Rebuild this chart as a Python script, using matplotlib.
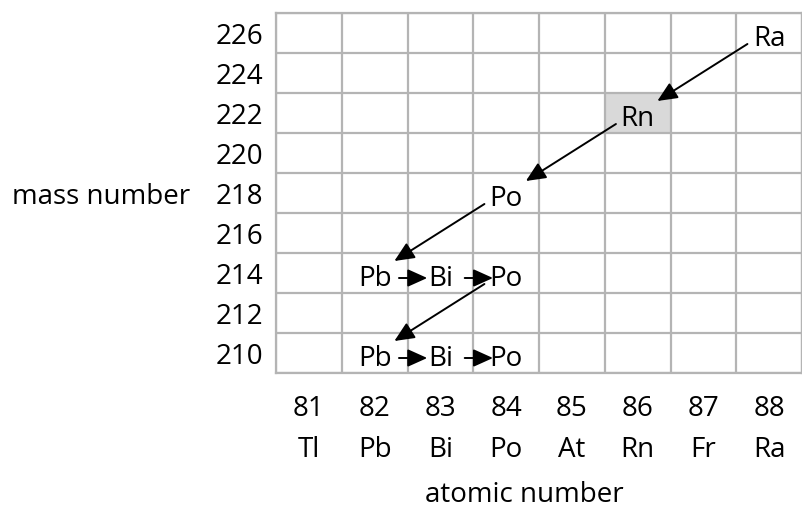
import matplotlib.pyplot as plt
from matplotlib.patches import Rectangle

# columns and rows of the chart
atomic_numbers = [81, 82, 83, 84, 85, 86, 87, 88]
element_symbols = ['Tl', 'Pb', 'Bi', 'Po', 'At', 'Rn', 'Fr', 'Ra']
mass_numbers = [210, 212, 214, 216, 218, 220, 222, 224, 226]

# nuclides on the chart
nuclide_z = [88, 86, 84, 82, 83, 84, 82, 83, 84]
nuclide_a = [226, 222, 218, 214, 214, 214, 210, 210, 210]
nuclide_sym = ['Ra', 'Rn', 'Po', 'Pb', 'Bi', 'Po', 'Pb', 'Bi', 'Po']

# alpha decays (parent -> daughter), as (Z, A)
alpha_from = [(88, 226), (86, 222), (84, 218), (84, 214)]
alpha_to = [(86, 222), (84, 218), (82, 214), (82, 210)]

# beta decays
beta_from = [(82, 214), (83, 214), (82, 210), (83, 210)]
beta_to = [(83, 214), (84, 214), (83, 210), (84, 210)]

highlight = (86, 222)

plt.rcParams['font.family'] = ['Open Sans', 'DejaVu Sans']
fs = 20
grid_col = '#b4b4b4'

fig = plt.figure(figsize=(8.03, 5.19), dpi=100)
ax = fig.add_axes([276 / 803, (519 - 373) / 519, 526 / 803, 360 / 519])
ax.set_xlim(80.5, 88.5)
ax.set_ylim(209, 227)

# grid
for k in range(len(atomic_numbers) + 1):
    ax.axvline(80.5 + k, color=grid_col, lw=1.6, zorder=1)
for k in range(len(mass_numbers) + 1):
    ax.axhline(209 + 2 * k, color=grid_col, lw=1.6, zorder=1)
for s in ax.spines.values():
    s.set_color(grid_col)
    s.set_linewidth(1.6)

ax.add_patch(Rectangle((highlight[0] - 0.5, highlight[1] - 1), 1, 2,
                       facecolor='#d9d9d9', edgecolor='none', zorder=0))

# ticks
ax.set_xticks([])
ax.set_yticks(mass_numbers)
ax.set_yticklabels([str(m) for m in mass_numbers], fontsize=fs)
ax.tick_params(axis='y', length=0, pad=9)
for z, sym in zip(atomic_numbers, element_symbols):
    ax.text(z, -0.089, str(z), transform=ax.get_xaxis_transform(),
            ha='center', va='center_baseline', fontsize=fs)
    ax.text(z, -0.203, sym, transform=ax.get_xaxis_transform(),
            ha='center', va='center_baseline', fontsize=fs)

ax.text(84.28, -0.33, 'atomic number', transform=ax.get_xaxis_transform(),
        ha='center', va='center_baseline', fontsize=fs)
ax.text(-0.1635, 218, 'mass number', transform=ax.get_yaxis_transform(),
        ha='right', va='center_baseline', fontsize=fs)

# nuclide labels
for z, a, sym in zip(nuclide_z, nuclide_a, nuclide_sym):
    ax.text(z, a - 0.1, sym, ha='center', va='center_baseline', fontsize=fs,
            zorder=3)

arrow_kw = dict(arrowstyle='-|>,head_length=0.6,head_width=0.27',
                color='black', lw=1.4, mutation_scale=20,
                shrinkA=0, shrinkB=0)
for (z0, a0), (z1, a1) in zip(alpha_from, alpha_to):
    ax.annotate('', xy=(z1 + 0.3, a1 + 0.6), xytext=(z0 - 0.33, a0 - 0.55),
                arrowprops=arrow_kw, zorder=4)
for (z0, a0), (z1, a1) in zip(beta_from, beta_to):
    ax.annotate('', xy=(z1 - 0.2, a1 - 0.25), xytext=(z0 + 0.37, a0 - 0.25),
                arrowprops=arrow_kw, zorder=4)

fig.savefig('out.png', dpi=100)
